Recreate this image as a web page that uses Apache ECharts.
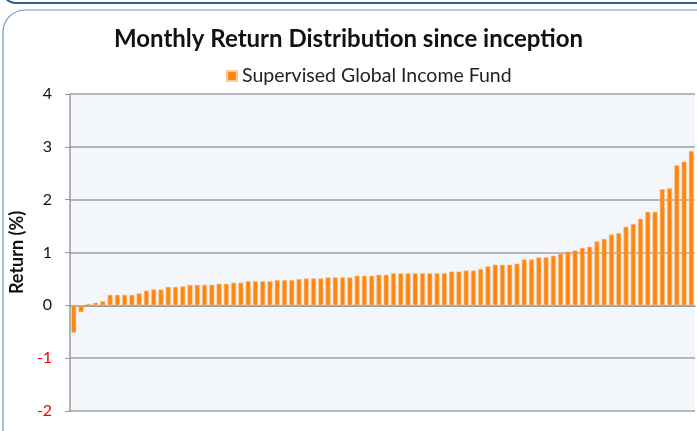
<!DOCTYPE html>
<html>
<head>
    <meta charset="UTF-8">
    <title>Monthly Return Distribution</title>
    <script src="https://cdn.jsdelivr.net/npm/echarts@6/dist/echarts.min.js"></script>
</head>
<body style="margin:0;background:#fff;">
<div id="container" style="width:697px;height:431px;"></div>
<script>
    // monthly returns, sorted low to high (%)
    var returns = [
        -0.52, -0.13, 0.03, 0.05, 0.08, 0.20, 0.20, 0.20, 0.20, 0.23,
        0.28, 0.30, 0.30, 0.35, 0.35, 0.36, 0.39, 0.39, 0.39, 0.39,
        0.41, 0.41, 0.43, 0.43, 0.46, 0.46, 0.46, 0.46, 0.48, 0.48,
        0.48, 0.50, 0.51, 0.51, 0.51, 0.53, 0.53, 0.53, 0.53, 0.56,
        0.56, 0.56, 0.58, 0.58, 0.61, 0.61, 0.61, 0.61, 0.61, 0.61,
        0.61, 0.61, 0.64, 0.64, 0.66, 0.66, 0.69, 0.74, 0.77, 0.77,
        0.77, 0.79, 0.87, 0.87, 0.91, 0.91, 0.94, 0.99, 1.02, 1.04,
        1.09, 1.11, 1.21, 1.26, 1.34, 1.37, 1.49, 1.54, 1.64, 1.77,
        1.77, 2.20, 2.22, 2.65, 2.72, 2.92
    ];
    var months = returns.map(function (v, i) { return String(i + 1); });
    var seriesName = 'Supervised Global Income Fund';
    var yTicks = [-2, -1, 0, 1, 2, 3, 4];

    var myChart = echarts.init(document.getElementById('container'));
    var option = {
        animation: false,
        title: {
            text: 'Monthly Return Distribution since inception',
            left: 'center',
            top: 22,
            textStyle: {
                fontFamily: 'Lato',
                fontWeight: 'bold',
                fontSize: 24,
                color: '#111'
            }
        },
        legend: {
            data: [seriesName],
            left: 221,
            top: 61,
            itemWidth: 10,
            itemHeight: 10,
            itemGap: 4,
            icon: 'rect',
            textStyle: { fontFamily: 'Lato', fontSize: 19.5, color: '#222' }
        },
        graphic: [
            {
                type: 'rect',
                shape: { x: 3, y: 10, width: 720, height: 440, r: 22 },
                style: { fill: null, stroke: '#5b9bd5', lineWidth: 1.2 },
                silent: true
            },
            {
                type: 'rect',
                shape: { x: 2, y: -60, width: 720, height: 63, r: 14 },
                style: { fill: null, stroke: '#2f5d9a', lineWidth: 2 },
                silent: true
            }
        ],
        grid: {
            left: 69,
            right: 2,
            top: 94,
            bottom: 20,
            show: true,
            backgroundColor: '#f3f7fc',
            borderWidth: 0
        },
        xAxis: {
            type: 'category',
            data: months,
            axisLabel: { show: false },
            axisTick: { show: false },
            axisLine: { onZero: true, lineStyle: { color: '#999', width: 1.5 } }
        },
        yAxis: {
            type: 'value',
            min: yTicks[0],
            max: yTicks[yTicks.length - 1],
            interval: 1,
            name: 'Return (%)',
            nameLocation: 'middle',
            nameGap: 42,
            nameTextStyle: { fontFamily: 'Lato', fontWeight: 'bold', fontSize: 18, color: '#111' },
            axisLine: { show: true, lineStyle: { color: '#999', width: 1.5 } },
            axisTick: { show: true, length: 5, lineStyle: { color: '#999' } },
            axisLabel: {
                fontFamily: 'Lato',
                fontSize: 16,
                margin: 18,
                color: function (v) { return v < 0 ? '#ff0000' : '#111'; }
            },
            splitLine: { lineStyle: { color: '#a0a0a0', width: 1.5 } }
        },
        series: [{
            name: seriesName,
            type: 'bar',
            data: returns,
            barCategoryGap: '30%',
            itemStyle: { color: '#ff870f', borderColor: '#ffc898', borderWidth: 0.6 }
        }]
    };
    myChart.setOption(option);
</script>
</body>
</html>
